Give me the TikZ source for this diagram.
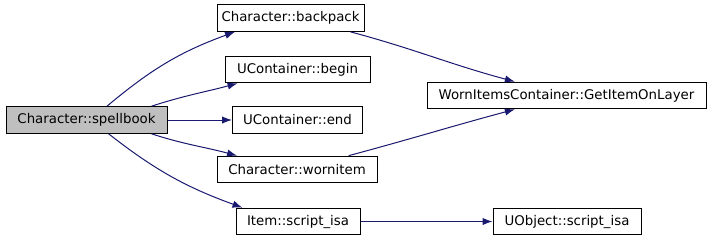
\documentclass[tikz,border=0pt]{standalone}
\usepackage{fontspec}
\setmainfont{DejaVu Sans}
\usepackage{xcolor}
\usepackage{tikz}
\usetikzlibrary{
  arrows.meta,
  positioning
}
\definecolor{edgeblue}{HTML}{191970}
\definecolor{nodegray}{HTML}{BFBFBF}

\begin{document}
\begin{tikzpicture}[x=0.75pt,y=-0.75pt,
  fnode/.style={draw,line width=0.75pt,fill=white,minimum height=20pt,
    inner xsep=0pt,font=\fontsize{10}{12}\selectfont},
  calls/.style={draw=edgeblue,line width=0.75pt,
    -{Latex[length=7.5pt,width=5.5pt]}}]
  \useasboundingbox (0,0) rectangle (712,240);
  % caller (grey) and callees
  \node[fnode,fill=nodegray,minimum width=120.75pt] (spellbook) at (86.5,120) {Character::spellbook};
  \node[fnode,minimum width=110.25pt] (backpack) at (290.5,18) {Character::backpack};
  \node[fnode,minimum width=108.75pt] (begin) at (297.5,69.5) {UContainer::begin};
  \node[fnode,minimum width=97.5pt] (end) at (297.5,120) {UContainer::end};
  \node[fnode,minimum width=120pt] (wornitem) at (297,169.5) {Character::wornitem};
  \node[fnode,minimum width=93pt] (itemisa) at (298,221.5) {Item::script\_isa};
  \node[fnode,minimum width=209.25pt] (getitem) at (566.5,95.5) {WornItemsContainer::GetItemOnLayer};
  \node[fnode,minimum width=111pt] (objisa) at (567,221.5) {UObject::script\_isa};
  % call edges
  \draw[calls] (spellbook.34) to[out=40,in=200] (backpack.194);
  \draw[calls] (spellbook.12) to[out=18,in=195] (begin.193);
  \draw[calls] (spellbook.east) -- (end.west);
  \draw[calls] (spellbook.-12) to[out=-18,in=165] (wornitem.167);
  \draw[calls] (spellbook.-32) to[out=-38,in=160] (itemisa.166);
  \draw[calls] (backpack.-13) to[out=-15,in=165] (getitem.165);
  \draw[calls] (wornitem.15) to[out=15,in=195] (getitem.195);
  \draw[calls] (itemisa.east) -- (objisa.west);
\end{tikzpicture}
\end{document}
